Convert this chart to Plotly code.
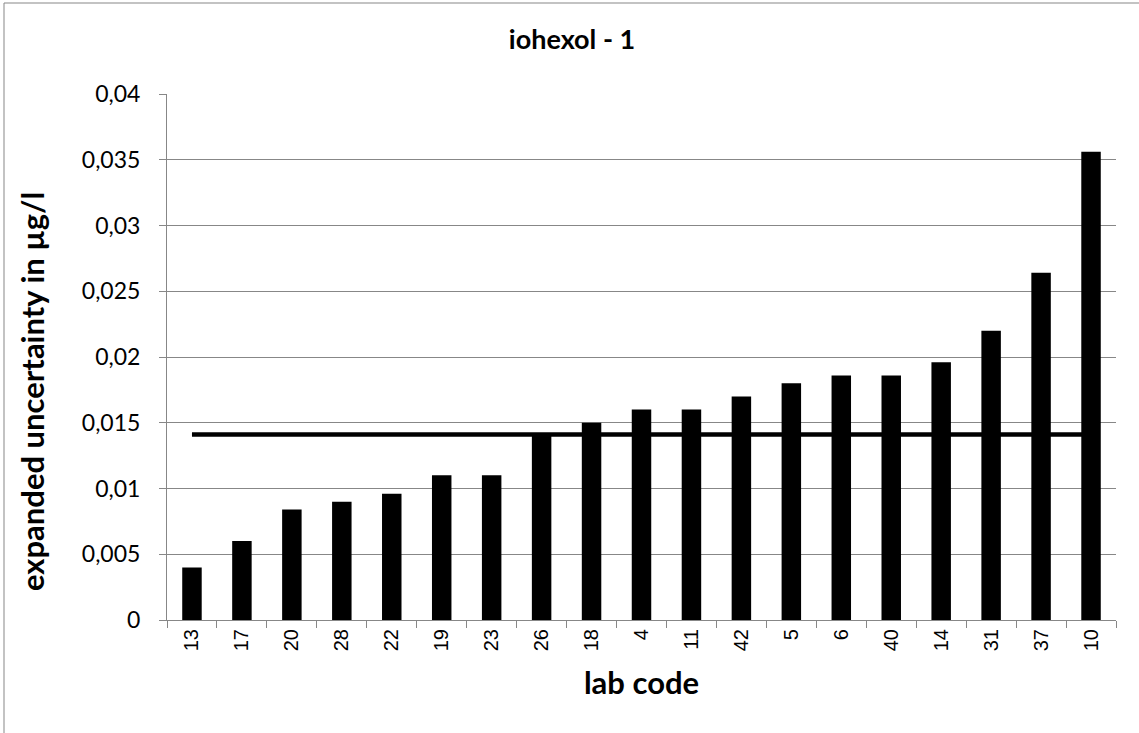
import plotly.graph_objects as go

lab_codes = ["13", "17", "20", "28", "22", "19", "23", "26", "18", "4",
             "11", "42", "5", "6", "40", "14", "31", "37", "10"]
uncertainty = [0.004, 0.006, 0.0084, 0.009, 0.0096, 0.011, 0.011, 0.0141, 0.015, 0.016,
               0.016, 0.017, 0.018, 0.0186, 0.0186, 0.0196, 0.022, 0.0264, 0.0356]
reference_value = [0.0141] * len(lab_codes)

y_tickvals = [0, 0.005, 0.01, 0.015, 0.02, 0.025, 0.03, 0.035, 0.04]
y_ticktext = ["0", "0,005", "0,01", "0,015", "0,02", "0,025", "0,03", "0,035", "0,04"]

W, H = 1139, 733
L, R, T, B = 167, 23, 94, 113
pw, ph = W - L - R, H - T - B

grey = "#878787"

fig = go.Figure()
fig.add_trace(go.Bar(x=lab_codes, y=uncertainty, marker=dict(color="black", line=dict(width=0)),
                     showlegend=False))
fig.add_trace(go.Scatter(x=lab_codes, y=reference_value, mode="lines",
                         line=dict(color="black", width=4.5), showlegend=False))

fig.update_layout(
    width=W, height=H,
    margin=dict(l=L, r=R, t=T, b=B, pad=0),
    plot_bgcolor="white", paper_bgcolor="white",
    bargap=0.61,
    title=dict(text="<b>iohexol - 1</b>", x=572 / W, xanchor="center", y=1 - 40 / H, yanchor="middle",
               font=dict(family="Lato", size=27, color="black")),
    font=dict(family="Lato", color="black"),
    xaxis=dict(
        type="category", range=[-0.5, len(lab_codes) - 0.5],
        showline=True, linecolor=grey, linewidth=1,
        ticks="outside", ticklen=7, tickcolor=grey, tickwidth=1,
        tickson="boundaries", showgrid=False,
        tickangle=-90,
        tickfont=dict(family="Liberation Sans", size=20, color="black"),
        title=dict(text="<b>lab code</b>", font=dict(family="Lato", size=31, color="black"), standoff=22),
    ),
    yaxis=dict(
        range=[0, 0.04], tickmode="array", tickvals=y_tickvals, ticktext=y_ticktext,
        showline=True, linecolor=grey, linewidth=1,
        ticks="outside", ticklen=7, tickcolor=grey, tickwidth=1,
        ticklabelstandoff=14,
        showgrid=True, gridcolor=grey, gridwidth=1, zeroline=False,
        tickfont=dict(family="Lato", size=23, color="black"),
    ),
    annotations=[dict(text="<b>expanded uncertainty in µg/l</b>", textangle=-90,
                      xref="paper", yref="paper", x=(32 - L) / pw, y=(H - B - 392) / ph,
                      xanchor="center", yanchor="middle", showarrow=False,
                      font=dict(family="Lato", size=31, color="black"))],
    shapes=[
        dict(type="line", xref="paper", yref="paper",
             x0=(4 - L) / pw, x1=(4 - L) / pw, y0=(H - B - (H + 10)) / ph, y1=(H - B - 3) / ph,
             line=dict(color=grey, width=1), layer="below"),
        dict(type="line", xref="paper", yref="paper",
             x0=(4 - L) / pw, x1=(W + 10 - L) / pw, y0=(H - B - 3) / ph, y1=(H - B - 3) / ph,
             line=dict(color=grey, width=1), layer="below"),
    ],
)

fig.write_html("out.html", config={"displayModeBar": False},
               post_script="document.body.style.margin='0';document.body.style.overflow='hidden';")
